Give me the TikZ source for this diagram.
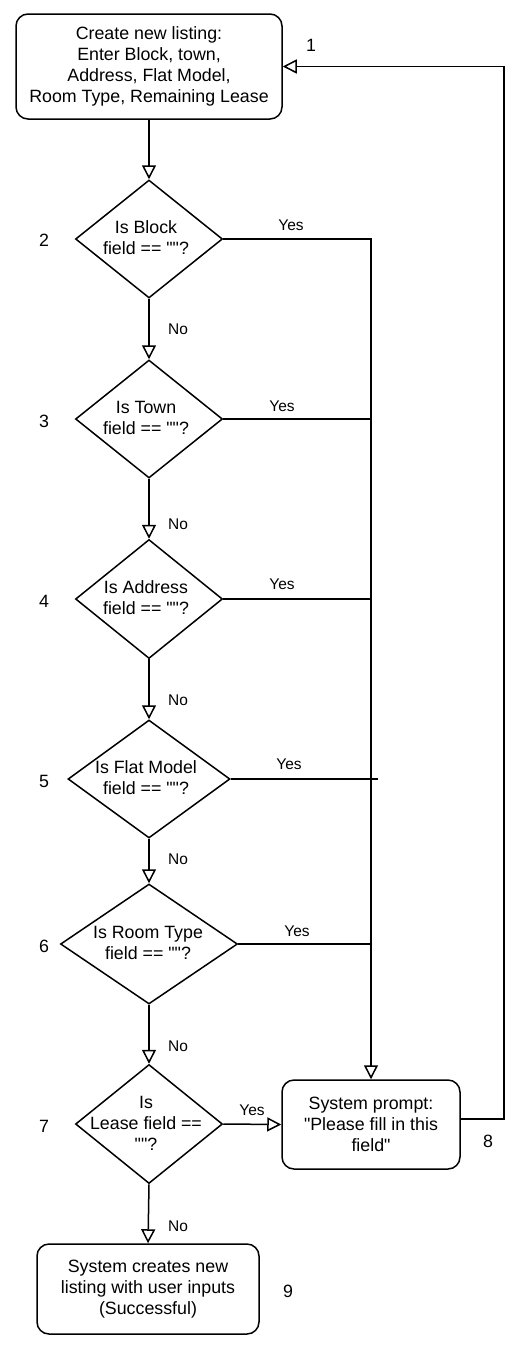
\documentclass[tikz,border=0pt]{standalone}
\usepackage{fontspec}
\setmainfont{Liberation Sans}
\newfontfamily\lib{Liberation Sans}
\usetikzlibrary{arrows.meta,shapes.geometric}
\begin{document}
\begin{tikzpicture}[x=1pt,y=-1pt,
  every node/.style={font=\lib\fontsize{17.8}{21}\selectfont},
  rbox/.style={draw,line width=1.5pt,rounded corners=12pt,inner sep=0pt,align=center},
  dia/.style={draw,diamond,line width=1.5pt,inner sep=0pt},
  dtext/.style={align=center,inner sep=0pt},
  lab/.style={font=\lib\fontsize{15.5}{18}\selectfont,inner sep=0pt},
  num/.style={inner sep=0pt},
  conn/.style={line width=1.5pt},
  arr/.style={conn,-{Triangle[open,length=14pt,width=14pt,line width=1.5pt]}}
]
\useasboundingbox (0,0) rectangle (530,1350);

% boxes
\node[rbox,minimum width=266pt,minimum height=105pt] (b1) at (149,66.5)
  {Create new listing:\\Enter Block, town,\\Address, Flat Model,\\Room Type, Remaining Lease};
\node[rbox,minimum width=178pt,minimum height=89pt] (p8) at (371,1124.5)
  {System prompt:\\"Please fill in this\\field"};
\node[rbox,minimum width=222pt,minimum height=90pt] (b9) at (148,1289)
  {System creates new\\listing with user inputs\\(Successful)};

% diamonds
\node[dia,minimum width=147pt,minimum height=118pt] (d2) at (149,239) {};
\node[dia,minimum width=147pt,minimum height=118pt] (d3) at (149,419) {};
\node[dia,minimum width=147pt,minimum height=119pt] (d4) at (149,599) {};
\node[dia,minimum width=162pt,minimum height=118pt] (d5) at (149,779) {};
\node[dia,minimum width=177pt,minimum height=120pt] (d6) at (149,944) {};
\node[dia,minimum width=147pt,minimum height=119pt] (d7) at (149,1124) {};

\node[dtext] (t2) at (146,238) {Is Block\\field == ""?};
\node[dtext] (t3) at (146,418) {Is Town\\field == ""?};
\node[dtext] (t4) at (146,598) {Is Address\\field == ""?};
\node[dtext] (t5) at (146,778) {Is Flat Model\\field == ""?};
\node[dtext] (t6) at (148,943) {Is Room Type\\field == ""?};
\node[dtext] (t7) at (146,1123) {Is\\Lease field ==\\""?};

% numbers
\node[num] (n1) at (311,45) {1};
\node[num] (n2) at (44,240) {2};
\node[num] (n3) at (44,421) {3};
\node[num] (n4) at (44,601) {4};
\node[num] (n5) at (44,781) {5};
\node[num] (n6) at (44,946) {6};
\node[num] (n7) at (44,1126) {7};
\node[num] (n8) at (488,1141) {8};
\node[num] (n9) at (288,1291) {9};

% labels
\node[lab] (y2) at (291,225) {Yes};
\node[lab] (y3) at (282,406) {Yes};
\node[lab] (y4) at (282,584) {Yes};
\node[lab] (y5) at (289,764) {Yes};
\node[lab] (y6) at (297,931) {Yes};
\node[lab] (y7) at (252,1110) {Yes};
\node[lab] (no2) at (178,329) {No};
\node[lab] (no3) at (178,524) {No};
\node[lab] (no4) at (178,700) {No};
\node[lab] (no5) at (178,859) {No};
\node[lab] (no6) at (178,1046) {No};
\node[lab] (no7) at (178,1226) {No};

\coordinate (loopx) at (504,1119);

% connectors
\draw[arr] (b1.south) -- (d2.north);
\draw[arr] (d2.south) -- (d3.north);
\draw[arr] (d3.south) -- (d4.north);
\draw[arr] (d4.south) -- (d5.north);
\draw[arr] (d5.south) -- (d6.north);
\draw[arr] (d6.south) -- (d7.north);
\draw[arr] (d7.south) -- (b9.north);

\draw[arr] (d2.east) -| (p8.north);
\draw[conn] (d3.east) -- (d3.east -| p8.north);
\draw[conn] (d4.east) -- (d4.east -| p8.north);
\draw[conn] (d5.east) -- ([xshift=7pt]d5.east -| p8.north);
\draw[conn] (d6.east) -- (d6.east -| p8.north);
\draw[arr] (d7.east) -- (p8.west);
\draw[arr] ([yshift=5.5pt]p8.east) -- ([yshift=5.5pt]p8.east -| loopx) |- (b1.east);
\end{tikzpicture}
\end{document}
